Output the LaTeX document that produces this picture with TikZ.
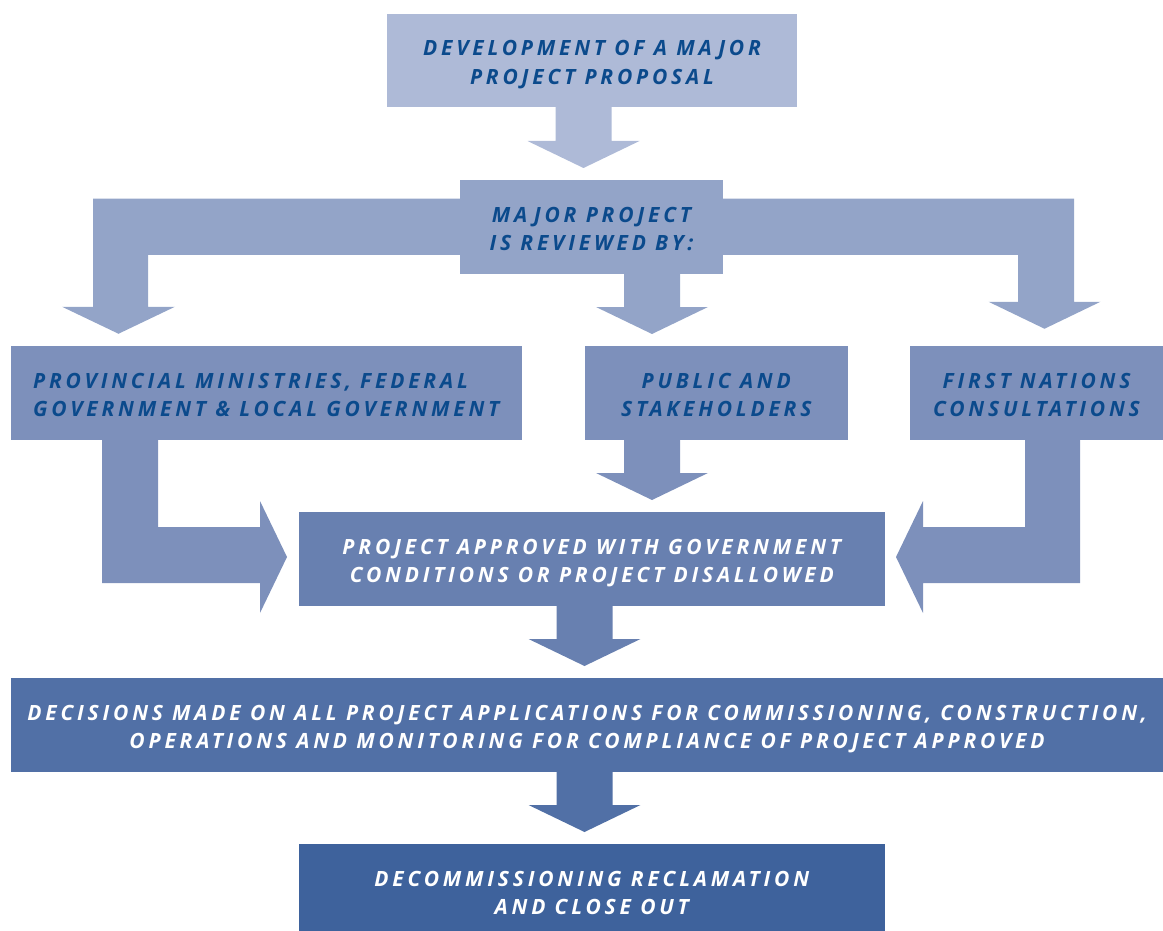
\documentclass[tikz,border=0pt]{standalone}
\usepackage{fontspec}
\usepackage{tikz}
\usetikzlibrary{calc}
\usetikzlibrary{backgrounds}

\newfontfamily\stagefont[LetterSpace=18]{Open Sans}

\definecolor{devcol}{HTML}{AEBAD7}
\definecolor{revcol}{HTML}{93A4C8}
\definecolor{partycol}{HTML}{7D90BB}
\definecolor{apprcol}{HTML}{6880B0}
\definecolor{deccol}{HTML}{5170A6}
\definecolor{closecol}{HTML}{3E629C}
\definecolor{inkblue}{HTML}{0B4A8C}

% fat down arrow: colour, start point, node it points at
\newcommand{\blockdown}[3]{%
\fill[#1] ($(#2)+(-28,0)$) -- ($(#2|-#3)+(-28,-39)$) -- ($(#2|-#3)+(-56,-39)$)
  -- ($(#2|-#3)+(0,-12)$) -- ($(#2|-#3)+(56,-39)$) -- ($(#2|-#3)+(28,-39)$)
  -- ($(#2)+(28,0)$) -- cycle;}

\begin{document}
\begin{tikzpicture}[x=1pt, y=-1pt,
  stage/.style={inner sep=0pt, outer sep=0pt, minimum height=93.5pt,
    text height=48pt, text depth=0pt,
    font=\stagefont\bfseries\itshape\fontsize{21}{28.5}\selectfont, align=center},
  darktext/.style={stage, text=inkblue},
  lighttext/.style={stage, text=white}]
\useasboundingbox (0,0) rectangle (1163,931);

\node[darktext, fill=devcol, minimum width=410pt] (dev) at (592,60.5)
  {DEVELOPMENT OF A MAJOR\\PROJECT PROPOSAL};
\node[darktext, fill=revcol, minimum width=263pt] (rev) at (591.5,226.75)
  {MAJOR PROJECT\\IS REVIEWED BY:};
\node[darktext, fill=partycol, minimum width=510.5pt, align=left] (prov) at (266.25,392.75)
  {PROVINCIAL MINISTRIES, FEDERAL\\GOVERNMENT \& LOCAL GOVERNMENT};
\node[darktext, fill=partycol, minimum width=263.5pt] (pub) at (716.25,392.75)
  {PUBLIC AND\\STAKEHOLDERS};
\node[darktext, fill=partycol, minimum width=253pt] (fn) at (1036.5,392.75)
  {FIRST NATIONS\\CONSULTATIONS};
\node[lighttext, fill=apprcol, minimum width=586.5pt] (appr) at (591.75,558.75)
  {PROJECT APPROVED WITH GOVERNMENT\\CONDITIONS OR PROJECT DISALLOWED};
\node[lighttext, fill=deccol, minimum width=1152pt] (dec) at (587,724.75)
  {DECISIONS MADE ON ALL PROJECT APPLICATIONS FOR COMMISSIONING, CONSTRUCTION,\\OPERATIONS AND MONITORING FOR COMPLIANCE OF PROJECT APPROVED};
\node[lighttext, fill=closecol, minimum width=586.5pt] (close) at (591.75,890.75)
  {DECOMMISSIONING RECLAMATION\\AND CLOSE OUT};

\coordinate (devout) at ($(dev.south)+(-8.5,0)$);
\coordinate (revout) at ($(rev.south)+(60.5,0)$);
\coordinate (pubout) at ($(pub.south)+(-64.25,0)$);
\coordinate (approut) at ($(appr.south)+(-7.25,0)$);
\coordinate (decout) at (approut |- dec.south);

\begin{scope}[on background layer]
\blockdown{devcol}{devout}{rev.north}
\blockdown{revcol}{revout}{pub.north}
\blockdown{partycol}{pubout}{appr.north}
\blockdown{apprcol}{approut}{dec.north}
\blockdown{deccol}{decout}{close.north}
% review bar, left and right
\fill[revcol] ($(rev.west)+(0,-28)$) -- ++(-367,0) -- ++(0,108) -- ++(-31,0)
  -- ++(56.5,27) -- ++(56.5,-27) -- ++(-27,0) -- ++(0,-52) -- ($(rev.west)+(0,28)$) -- cycle;
\fill[revcol] ($(rev.east)+(0,-28)$) -- ++(351,0) -- ++(0,103) -- ++(26.5,0)
  -- ++(-56,27) -- ++(-56,-27) -- ++(29.5,0) -- ++(0,-47) -- ($(rev.east)+(0,28)$) -- cycle;
% bent arrows into the approval box
\fill[partycol] ($(prov.south west)+(91,0)$) -- ++(0,143.5) -- ++(158,0) -- ++(0,30)
  -- ++(27,-56) -- ++(-27,-56) -- ++(0,26) -- ++(-102,0) -- ($(prov.south west)+(147,0)$) -- cycle;
\fill[partycol] ($(fn.south west)+(115,0)$) -- ++(0,87.5) -- ++(-102,0) -- ++(0,-26)
  -- ++(-27,56) -- ++(27,56) -- ++(0,-30) -- ++(157,0) -- ($(fn.south west)+(170,0)$) -- cycle;
\end{scope}
\end{tikzpicture}
\end{document}
